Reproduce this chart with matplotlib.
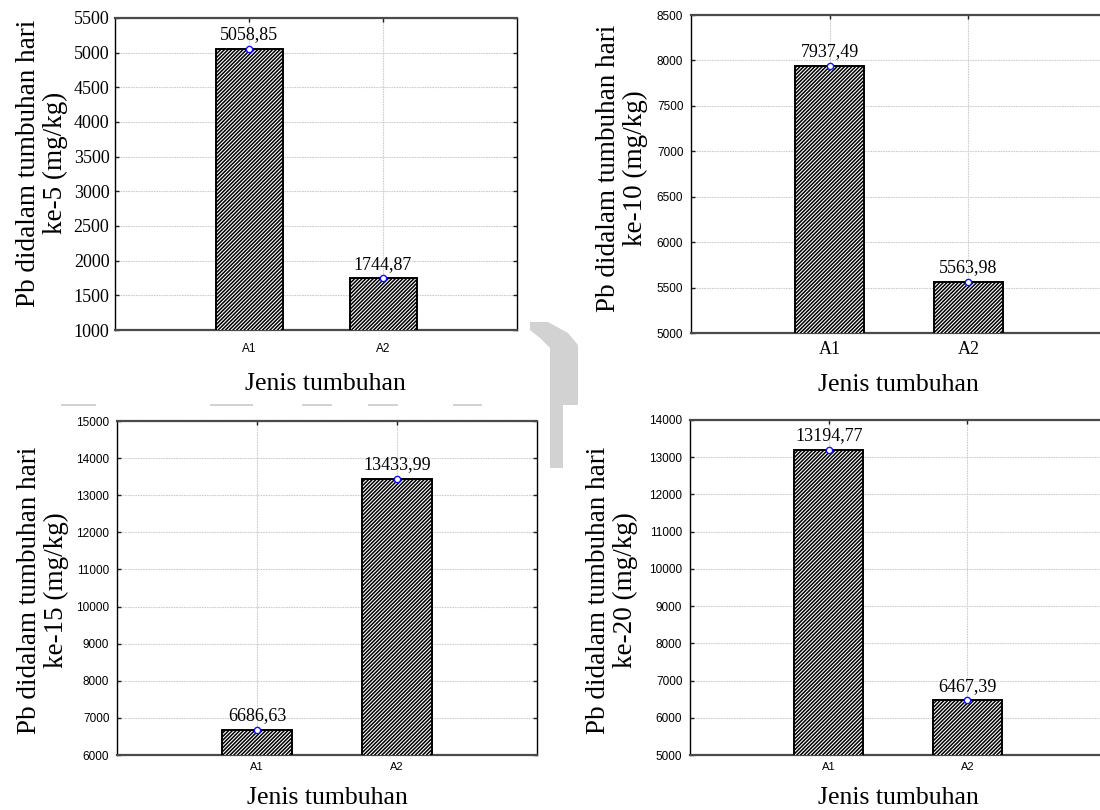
import matplotlib
matplotlib.use("Agg")
import matplotlib.pyplot as plt
from matplotlib.patches import Polygon, Rectangle

# ---------------- data ----------------
categories = ["A1", "A2"]
values_day5 = [5058.85, 1744.87]
values_day10 = [7937.49, 5563.98]
values_day15 = [6686.63, 13433.99]
values_day20 = [13194.77, 6467.39]
ylabels = [
    "Pb didalam tumbuhan hari\nke-5 (mg/kg)",
    "Pb didalam tumbuhan hari\nke-10 (mg/kg)",
    "Pb didalam tumbuhan hari\nke-15 (mg/kg)",
    "Pb didalam tumbuhan hari\nke-20 (mg/kg)",
]
xlabel = "Jenis tumbuhan"

W, H = 1100, 810
SERIF = ["Liberation Serif", "DejaVu Serif"]
SANS = ["Liberation Sans", "DejaVu Sans"]

plt.rcParams["hatch.linewidth"] = 1.1

fig = plt.figure(figsize=(W / 100, H / 100), dpi=100)
fig.patch.set_facecolor("white")


def rect(l, r, t, b):
    return [l / W, 1 - b / H, (r - l) / W, (b - t) / H]


def fx(x):
    return x / W


def fy(y):
    return 1 - y / H


panels = [
    dict(vals=values_day5, box=(115, 517, 18, 330), ylim=(1000, 5500), step=500,
         yfont=(SERIF, 13), xfont=(SANS, 8.5), xpad=9.5, ypad=4.0,
         ylab=(42, 163), xlab=(325, 384), ylabel=ylabels[0]),
    dict(vals=values_day10, box=(691, 1107, 15, 333), ylim=(5000, 8500), step=500,
         yfont=(SANS, 8.5), xfont=(SERIF, 13), xpad=6.0, ypad=5.5,
         ylab=(622, 168), xlab=(898, 385), ylabel=ylabels[1]),
    dict(vals=values_day15, box=(117, 537, 421, 755), ylim=(6000, 15000), step=1000,
         yfont=(SANS, 8.5), xfont=(SANS, 8), xpad=5.0, ypad=5.5,
         ylab=(43, 590), xlab=(327, 798), ylabel=ylabels[2]),
    dict(vals=values_day20, box=(690, 1106, 420, 755), ylim=(5000, 14000), step=1000,
         yfont=(SANS, 8.5), xfont=(SANS, 8), xpad=5.0, ypad=5.5,
         ylab=(612, 590), xlab=(898, 798), ylabel=ylabels[3]),
]

for p in panels:
    ax = fig.add_axes(rect(*p["box"]))
    x = list(range(1, len(categories) + 1))
    ax.bar(x, p["vals"], width=0.5, color="white", edgecolor="black",
           linewidth=1.4, hatch="/" * 9, zorder=3)
    ax.plot(x, p["vals"], linestyle="none", marker="o", markersize=4.5,
            markerfacecolor="white", markeredgecolor="#1010ff",
            markeredgewidth=1.0, zorder=5)
    for xi, v in zip(x, p["vals"]):
        ax.annotate(f"{v:.2f}".replace(".", ","), (xi, v), xytext=(0, 4),
                    textcoords="offset points", ha="center", va="bottom",
                    family=SERIF, fontsize=13, color="black", zorder=6)
    ax.set_xlim(0, 3)
    ax.set_ylim(*p["ylim"])
    lo, hi = p["ylim"]
    ax.set_yticks(list(range(lo, hi + 1, p["step"])))
    ax.set_xticks(x)
    ax.set_xticklabels(categories)
    for lab in ax.get_yticklabels():
        lab.set_family(p["yfont"][0])
        lab.set_fontsize(p["yfont"][1])
    for lab in ax.get_xticklabels():
        lab.set_family(p["xfont"][0])
        lab.set_fontsize(p["xfont"][1])
    ax.tick_params(axis="both", direction="in", length=3, width=1,
                   color="#202020", top=True, right=True)
    ax.tick_params(axis="x", pad=p["xpad"])
    ax.tick_params(axis="y", pad=p["ypad"])
    ax.grid(True, color="#cfcfcf", linewidth=0.8, linestyle=(0, (1.5, 0.8)), zorder=0)
    ax.set_axisbelow(True)
    for s in ("left", "right"):
        ax.spines[s].set_color("black")
        ax.spines[s].set_linewidth(1.0)
    for s in ("top", "bottom"):
        ax.spines[s].set_color("#4a4a4a")
        ax.spines[s].set_linewidth(1.6)
    fig.text(fx(p["ylab"][0]), fy(p["ylab"][1]), p["ylabel"], rotation=90,
             ha="center", va="center", multialignment="center",
             family=SERIF, fontsize=19.5, linespacing=1.05)
    fig.text(fx(p["xlab"][0]), fy(p["xlab"][1]), xlabel, ha="center",
             va="center", family=SERIF, fontsize=18.5)

# ---- light grey scanning artefacts between the panels ----
art = "#d2d2d2"
arrow = [(530, 322), (548, 322), (568, 333), (578, 345), (578, 405),
         (563, 405), (563, 468), (550, 468), (550, 348), (540, 338), (530, 330)]
fig.patches.append(Polygon([(fx(a), fy(b)) for a, b in arrow], closed=True,
                           transform=fig.transFigure, facecolor=art,
                           edgecolor="none", zorder=0))
for a, b in [(61, 96), (210, 253), (302, 332), (368, 398), (453, 482)]:
    fig.patches.append(Rectangle((fx(a), fy(406)), (b - a) / W, 2 / H,
                                 transform=fig.transFigure, facecolor=art,
                                 edgecolor="none", zorder=0))

fig.savefig("out.png", dpi=100)
